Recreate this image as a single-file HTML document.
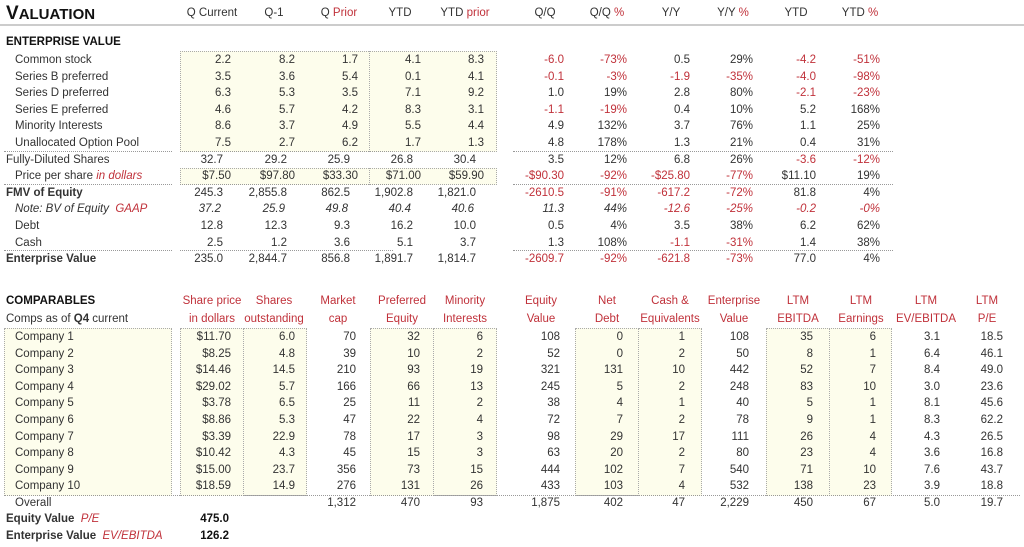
<!DOCTYPE html>
<html><head><meta charset="utf-8"><style>
body{margin:0;width:1024px;height:547px;background:#fff;position:relative;overflow:hidden;font-family:"Liberation Sans",sans-serif;font-size:11.5px;color:#333}
.t{position:absolute;white-space:nowrap;line-height:14px}
.r{text-align:right}
.c{text-align:center}
.red{color:#c0313a}
.b{font-weight:bold;color:#111}
.i{font-style:italic}
.box{position:absolute;background:#fdfdec;border:1px dotted #aaa;box-sizing:border-box}
.hl{position:absolute;height:0;border-top:1px dotted #999}
</style></head><body>
<div class="t b" style="left:6px;top:3px;font-size:19px;line-height:21px">V<span style="font-size:15px">ALUATION</span></div>
<div class="hl" style="left:0;top:24px;width:1024px;border-top:2px solid #ccc"></div>
<div class="box" style="left:180px;top:51px;width:317px;height:101px"></div>
<div class="box" style="left:369px;top:51px;width:128px;height:101px;background:transparent"></div>
<div class="box" style="left:180px;top:168px;width:317px;height:17px"></div>
<div class="box" style="left:369px;top:168px;width:128px;height:17px;background:transparent"></div>
<div class="hl" style="left:4px;top:151px;width:168px"></div>
<div class="hl" style="left:180px;top:151px;width:213px"></div>
<div class="hl" style="left:4px;top:184px;width:168px"></div>
<div class="hl" style="left:180px;top:184px;width:213px"></div>
<div class="hl" style="left:4px;top:250px;width:168px"></div>
<div class="hl" style="left:180px;top:250px;width:213px"></div>
<div class="hl" style="left:513px;top:151px;width:380px"></div>
<div class="hl" style="left:513px;top:184px;width:380px"></div>
<div class="hl" style="left:513px;top:250px;width:380px"></div>

<div class="box" style="left:4px;top:328px;width:168px;height:168px"></div>
<div class="box" style="left:180px;top:328px;width:64px;height:168px"></div>
<div class="box" style="left:243px;top:328px;width:64px;height:168px"></div>
<div class="box" style="left:370px;top:328px;width:64px;height:168px"></div>
<div class="box" style="left:433px;top:328px;width:64px;height:168px"></div>
<div class="box" style="left:575px;top:328px;width:64px;height:168px"></div>
<div class="box" style="left:638px;top:328px;width:64px;height:168px"></div>
<div class="box" style="left:766px;top:328px;width:64px;height:168px"></div>
<div class="box" style="left:829px;top:328px;width:63px;height:168px"></div>
<div class="hl" style="left:4px;top:495px;width:1016px"></div>
<div id="g"></div>
<script>
var g=document.getElementById('g'),h='';
function T(x,y,s,cls,align){var st=align=='r'?'right:'+(1024-x)+'px':align=='c'?'left:'+(x-50)+'px;width:100px':'left:'+x+'px';h+='<div class="t '+(align||'')+' '+(cls||'')+'" style="'+st+';top:'+(y-7)+'px">'+s+'</div>';}
var hc=[[212,'Q Current'],[274,'Q-1'],[339,'Q <span class=red>Prior</span>'],[400,'YTD'],[465,'YTD <span class=red>prior</span>'],[545,'Q/Q'],[607,'Q/Q <span class=red>%</span>'],[671,'Y/Y'],[733,'Y/Y <span class=red>%</span>'],[796,'YTD'],[860,'YTD <span class=red>%</span>']];
hc.forEach(function(a){T(a[0],13,a[1],'','c')});
T(6,42,'ENTERPRISE VALUE','b');
var xs=[231,295,358,421,484,564,627,690,753,816,880];
var rows=[
['Common stock',15,'2.2 8.2 1.7 4.1 8.3 -6.0 -73% 0.5 29% -4.2 -51%'],
['Series B preferred',15,'3.5 3.6 5.4 0.1 4.1 -0.1 -3% -1.9 -35% -4.0 -98%'],
['Series D preferred',15,'6.3 5.3 3.5 7.1 9.2 1.0 19% 2.8 80% -2.1 -23%'],
['Series E preferred',15,'4.6 5.7 4.2 8.3 3.1 -1.1 -19% 0.4 10% 5.2 168%'],
['Minority Interests',15,'8.6 3.7 4.9 5.5 4.4 4.9 132% 3.7 76% 1.1 25%'],
['Unallocated Option Pool',15,'7.5 2.7 6.2 1.7 1.3 4.8 178% 1.3 21% 0.4 31%'],
['Fully-Diluted Shares',6,'32.7 29.2 25.9 26.8 30.4 3.5 12% 6.8 26% -3.6 -12%'],
['Price per share <span class="red i">in dollars</span>',15,'$7.50 $97.80 $33.30 $71.00 $59.90 -$90.30 -92% -$25.80 -77% $11.10 19%'],
['<b>FMV of Equity</b>',6,'245.3 2,855.8 862.5 1,902.8 1,821.0 -2610.5 -91% -617.2 -72% 81.8 4%'],
['<i>Note: BV of Equity</i> &nbsp;<span class="red i">GAAP</span>',15,'37.2 25.9 49.8 40.4 40.6 11.3 44% -12.6 -25% -0.2 -0%','i'],
['Debt',15,'12.8 12.3 9.3 16.2 10.0 0.5 4% 3.5 38% 6.2 62%'],
['Cash',15,'2.5 1.2 3.6 5.1 3.7 1.3 108% -1.1 -31% 1.4 38%'],
['<b>Enterprise Value</b>',6,'235.0 2,844.7 856.8 1,891.7 1,814.7 -2609.7 -92% -621.8 -73% 77.0 4%']];
rows.forEach(function(r,k){var y=60+k*16.6;T(r[1],y,r[0]);var v=r[2].split(' ');v.forEach(function(s,j){var off=(j<5&&(k==8||k==12))?-8:0;if(j<5&&k==9)off=-10;if(j<5&&(k==6||k==10||k==11))off=-8;T(xs[j]+off,y,s,(s[0]=='-'?'red ':'')+(r[3]||''),'r')})});
T(6,301,'COMPARABLES','b');
T(6,319,'Comps as of <b>Q4</b> current');
var bh=[[212,'Share price','in dollars'],[274,'Shares','outstanding'],[338,'Market','cap'],[402,'Preferred','Equity'],[465,'Minority','Interests'],[541,'Equity','Value'],[607,'Net','Debt'],[670,'Cash &amp;','Equivalents'],[734,'Enterprise','Value'],[798,'LTM','EBITDA'],[861,'LTM','Earnings'],[926,'LTM','EV/EBITDA'],[987,'LTM','P/E']];
bh.forEach(function(a){T(a[0],301,a[1],'red','c');T(a[0],319,a[2],'red','c')});
var bx=[231,295,356,420,483,560,623,685,749,813,876,940,1003];
var d=['$11.70 6.0 70 32 6 108 0 1 108 35 6 3.1 18.5','$8.25 4.8 39 10 2 52 0 2 50 8 1 6.4 46.1','$14.46 14.5 210 93 19 321 131 10 442 52 7 8.4 49.0','$29.02 5.7 166 66 13 245 5 2 248 83 10 3.0 23.6','$3.78 6.5 25 11 2 38 4 1 40 5 1 8.1 45.6','$8.86 5.3 47 22 4 72 7 2 78 9 1 8.3 62.2','$3.39 22.9 78 17 3 98 29 17 111 26 4 4.3 26.5','$10.42 4.3 45 15 3 63 20 2 80 23 4 3.6 16.8','$15.00 23.7 356 73 15 444 102 7 540 71 10 7.6 43.7','$18.59 14.9 276 131 26 433 103 4 532 138 23 3.9 18.8'];
d.forEach(function(r,k){var y=337+k*16.6;T(15,y,'Company '+(k+1));r.split(' ').forEach(function(s,j){T(bx[j],y,s,'','r')})});
var y=503;T(15,y,'Overall');['','','1,312','470','93','1,875','402','47','2,229','450','67','5.0','19.7'].forEach(function(s,j){if(s)T(bx[j],y,s,'','r')});
T(6,519,'<b>Equity Value</b> &nbsp;<span class="red i">P/E</span>');T(229,519,'475.0','b','r');
T(6,536,'<b>Enterprise Value</b> &nbsp;<span class="red i">EV/EBITDA</span>');T(229,536,'126.2','b','r');
g.innerHTML=h;
</script>
</body></html>
